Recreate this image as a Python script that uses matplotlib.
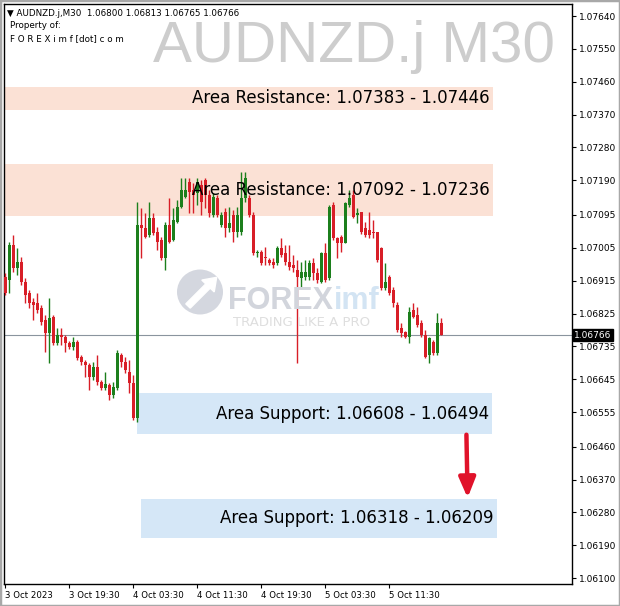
import numpy as np
import matplotlib
matplotlib.use('Agg')
import matplotlib.pyplot as plt
from matplotlib.patches import Rectangle, Circle, FancyArrow

# candles: AUDNZD.j M30, one bar per 30 minutes starting 3 Oct 11:30
opens = [
    1.06925, 1.06917, 1.07013, 1.06949, 1.06966, 1.06911, 1.06881, 1.06856, 1.06854, 1.06840,
    1.06807, 1.06771, 1.06815, 1.06744, 1.06766, 1.06760, 1.06744, 1.06733, 1.06747, 1.06706,
    1.06692, 1.06684, 1.06651, 1.06678, 1.06637, 1.06621, 1.06629, 1.06602, 1.06621, 1.06711,
    1.06692, 1.06665, 1.06634, 1.06539, 1.07067, 1.07059, 1.07040, 1.07087, 1.07048, 1.07026,
    1.06977, 1.07067, 1.07026, 1.07076, 1.07117, 1.07144, 1.07185, 1.07163, 1.07155, 1.07177,
    1.07191, 1.07150, 1.07095, 1.07141, 1.07067, 1.07103, 1.07059, 1.07095, 1.07048, 1.07048,
    1.07141, 1.07141, 1.07095, 1.06991, 1.06993, 1.06980, 1.06971, 1.06966, 1.06963, 1.07004,
    1.06991, 1.06966, 1.06958, 1.06944, 1.06922, 1.06925, 1.06925, 1.06963, 1.06936, 1.06911,
    1.06991, 1.06922, 1.07122, 1.07032, 1.07034, 1.07018, 1.07122, 1.07150, 1.07095, 1.07103,
    1.07059, 1.07054, 1.07048, 1.07048, 1.07004, 1.06895, 1.06925, 1.06889, 1.06848, 1.06785,
    1.06774, 1.06760, 1.06834, 1.06821, 1.06799, 1.06766, 1.06711, 1.06747, 1.06717, 1.06800,
]
highs = [
    1.06936, 1.07021, 1.07040, 1.07004, 1.06980, 1.06922, 1.06889, 1.06867, 1.06881, 1.06848,
    1.06821, 1.06867, 1.06821, 1.06785, 1.06785, 1.06766, 1.06749, 1.06760, 1.06752, 1.06711,
    1.06697, 1.06689, 1.06692, 1.06711, 1.06643, 1.06665, 1.06634, 1.06637, 1.06725, 1.06717,
    1.06706, 1.06697, 1.06656, 1.07130, 1.07114, 1.07100, 1.07130, 1.07100, 1.07062, 1.07034,
    1.07076, 1.07141, 1.07114, 1.07136, 1.07196, 1.07196, 1.07196, 1.07182, 1.07196, 1.07191,
    1.07196, 1.07163, 1.07155, 1.07150, 1.07103, 1.07114, 1.07117, 1.07108, 1.07117, 1.07213,
    1.07213, 1.07150, 1.07103, 1.06999, 1.06999, 1.07007, 1.06977, 1.06977, 1.07010, 1.07032,
    1.07013, 1.07013, 1.06985, 1.06971, 1.06966, 1.06971, 1.06971, 1.06977, 1.06949, 1.06993,
    1.07018, 1.07122, 1.07130, 1.07034, 1.07040, 1.07130, 1.07163, 1.07163, 1.07114, 1.07103,
    1.07076, 1.07103, 1.07081, 1.07048, 1.07007, 1.06963, 1.06930, 1.06897, 1.06856, 1.06799,
    1.06777, 1.06843, 1.06854, 1.06843, 1.06807, 1.06780, 1.06760, 1.06752, 1.06826, 1.06813,
]
lows = [
    1.06876, 1.06881, 1.06938, 1.06930, 1.06903, 1.06854, 1.06840, 1.06807, 1.06826, 1.06793,
    1.06719, 1.06689, 1.06739, 1.06739, 1.06739, 1.06719, 1.06728, 1.06725, 1.06697, 1.06684,
    1.06651, 1.06615, 1.06643, 1.06629, 1.06615, 1.06615, 1.06588, 1.06593, 1.06615, 1.06678,
    1.06662, 1.06607, 1.06533, 1.06528, 1.06977, 1.07032, 1.07034, 1.07040, 1.06999, 1.06971,
    1.06944, 1.07018, 1.07023, 1.07073, 1.07114, 1.07141, 1.07100, 1.07100, 1.07122, 1.07095,
    1.07114, 1.07089, 1.07089, 1.07089, 1.07062, 1.07034, 1.07048, 1.07021, 1.07034, 1.07040,
    1.07130, 1.07089, 1.06985, 1.06980, 1.06958, 1.06958, 1.06958, 1.06949, 1.06958, 1.06980,
    1.06958, 1.06944, 1.06938, 1.06689, 1.06895, 1.06917, 1.06917, 1.06917, 1.06908, 1.06908,
    1.06911, 1.06917, 1.07026, 1.06977, 1.06993, 1.07018, 1.07117, 1.07087, 1.07073, 1.07043,
    1.07034, 1.07032, 1.07032, 1.06966, 1.06889, 1.06889, 1.06876, 1.06843, 1.06774, 1.06760,
    1.06758, 1.06744, 1.06813, 1.06788, 1.06760, 1.06703, 1.06689, 1.06711, 1.06711, 1.06765,
]
closes = [
    1.06881, 1.07013, 1.06949, 1.06966, 1.06911, 1.06876, 1.06854, 1.06848, 1.06834, 1.06802,
    1.06771, 1.06813, 1.06744, 1.06766, 1.06760, 1.06744, 1.06733, 1.06747, 1.06703, 1.06692,
    1.06684, 1.06651, 1.06678, 1.06637, 1.06621, 1.06632, 1.06602, 1.06623, 1.06717, 1.06692,
    1.06670, 1.06634, 1.06539, 1.07067, 1.07059, 1.07034, 1.07087, 1.07045, 1.07021, 1.06977,
    1.07067, 1.07021, 1.07081, 1.07117, 1.07163, 1.07163, 1.07158, 1.07150, 1.07185, 1.07130,
    1.07150, 1.07100, 1.07144, 1.07095, 1.07095, 1.07059, 1.07073, 1.07048, 1.07095, 1.07141,
    1.07196, 1.07095, 1.06991, 1.06993, 1.06963, 1.06977, 1.06963, 1.06958, 1.07004, 1.06985,
    1.06966, 1.06952, 1.06949, 1.06925, 1.06938, 1.06938, 1.06963, 1.06936, 1.06917, 1.06991,
    1.06917, 1.07117, 1.07032, 1.07018, 1.07018, 1.07128, 1.07141, 1.07089, 1.07100, 1.07048,
    1.07040, 1.07040, 1.07045, 1.06971, 1.06895, 1.06911, 1.06881, 1.06854, 1.06780, 1.06771,
    1.06760, 1.06829, 1.06815, 1.06793, 1.06766, 1.06706, 1.06758, 1.06717, 1.06799, 1.06766,
]

# zones (price range, first bar index, last bar index)
zone_names = ['Area Resistance', 'Area Resistance', 'Area Support', 'Area Support']
zone_lo = [1.07383, 1.07092, 1.06494, 1.06209]
zone_hi = [1.07446, 1.07236, 1.06608, 1.06318]
zone_label = ['1.07383 - 1.07446', '1.07092 - 1.07236', '1.06608 - 1.06494', '1.06318 - 1.06209']
zone_start = [-1.0, -1.0, 32.9, 33.9]
zone_end = [121.9, 121.9, 121.7, 122.9]
zone_kind = ['res', 'res', 'sup', 'sup']

last_price = 1.06766

xtick_pos = [0, 16, 32, 48, 64, 80, 96]
xtick_lab = ['3 Oct 2023', '3 Oct 19:30', '4 Oct 03:30', '4 Oct 11:30',
             '4 Oct 19:30', '5 Oct 03:30', '5 Oct 11:30']
ytick_lab = ['1.07640', '1.07550', '1.07460', '1.07370', '1.07280', '1.07190',
             '1.07095', '1.07005', '1.06915', '1.06825', '1.06735', '1.06645',
             '1.06555', '1.06460', '1.06370', '1.06280', '1.06190', '1.06100']

GREEN = '#1c7f1c'
RED = '#d81e27'
RES_FILL = '#fbe1d5'
SUP_FILL = '#d5e7f7'

fig = plt.figure(figsize=(6.2, 6.06), dpi=100)
fig.patch.set_facecolor('white')
ax = fig.add_axes([4 / 620, 22 / 606, 568 / 620, 580 / 606])
ax.set_facecolor('white')

# watermark symbol text
fig.text(555 / 620, 1 - 62 / 606, 'AUDNZD.j M30', ha='right', va='baseline',
         fontsize=42, color='#cdcdcd', family='Liberation Sans', zorder=0)

# faint logo in the middle
circ = Circle((200 / 620, 1 - 292 / 606), 23 / 620, transform=fig.transFigure,
              facecolor='#d4d7df', edgecolor='none', zorder=0.5)
fig.patches.append(circ)
arr = FancyArrow(188 / 620, 1 - 306 / 606, 20 / 620, 20 / 606, width=0.010,
                 head_width=0.028, head_length=0.02, color='white',
                 transform=fig.transFigure, zorder=0.6)
fig.patches.append(arr)
t_forex = fig.text(228 / 620, 1 - 309 / 606, 'FOREX', fontsize=22, fontweight='bold',
                   color='#d2d5dc', family='Liberation Sans', zorder=0.5)
fig.canvas.draw()
bb = t_forex.get_window_extent()
fig.text(bb.x1 / fig.bbox.width + 1 / 620, 1 - 309 / 606, 'imf', fontsize=22,
         fontweight='bold', color='#d3e4f3', family='Liberation Sans', zorder=0.5)
fig.text(233 / 620, 1 - 326 / 606, 'TRADING LIKE A PRO', fontsize=9.5,
         color='#dedede', family='DejaVu Sans', zorder=0.5)

# zones
for i in range(len(zone_lo)):
    fill = RES_FILL if zone_kind[i] == 'res' else SUP_FILL
    ax.add_patch(Rectangle((zone_start[i], zone_lo[i]), zone_end[i] - zone_start[i],
                           zone_hi[i] - zone_lo[i], facecolor=fill,
                           edgecolor='none', zorder=1))

# current price line
ax.axhline(last_price, color='#8a949e', lw=0.8, zorder=2)

# candles
x = np.arange(len(opens))
o = np.array(opens)
c = np.array(closes)
h = np.array(highs)
l = np.array(lows)
up = c >= o
cols = np.where(up, GREEN, RED)
ax.vlines(x, l, h, colors=cols, lw=1.0, zorder=3)
body = np.maximum(np.abs(c - o), 0.00003)
ax.bar(x, body, bottom=np.minimum(o, c), width=0.72, color=cols, zorder=3)

# zone labels
for i in range(len(zone_lo)):
    ax.text(zone_end[i] - 0.8, (zone_lo[i] + zone_hi[i]) / 2,
            zone_names[i] + ': ' + zone_label[i], ha='right', va='center',
            fontsize=12, color='black', zorder=5)

# red arrow from support 1 to support 2
ax.annotate('', xy=(115.6, zone_hi[3] + 0.00002), xytext=(115.3, zone_lo[2] - 0.00001),
            arrowprops=dict(arrowstyle='-|>,head_width=0.5,head_length=1.2',
                            color='#e0122a', lw=3.2, shrinkA=0, shrinkB=0),
            zorder=6)

# axes
ax.set_xlim(-0.33, 141.7)
ax.set_ylim(1.06084, 1.07673)
ax.yaxis.tick_right()
ax.set_yticks([float(t) for t in ytick_lab])
ax.set_yticklabels(ytick_lab, fontsize=6.5)
ax.set_xticks(xtick_pos)
ax.set_xticklabels(xtick_lab, fontsize=6.2)
for lbl in ax.get_xticklabels():
    lbl.set_ha('left')
ax.tick_params(axis='y', length=3, width=0.8, pad=2)
ax.tick_params(axis='x', length=3, width=0.8, pad=2)
for s in ax.spines.values():
    s.set_color('black')
    s.set_linewidth(1.0)

# last price tag on the axis
ax.text(1.004, last_price, '1.06766', transform=ax.get_yaxis_transform(),
        ha='left', va='center', fontsize=6.5, color='white',
        bbox=dict(boxstyle='square,pad=0.15', facecolor='black', edgecolor='black'),
        zorder=7, clip_on=False)

# header
fig.text(7 / 620, 1 - 13 / 606, '\u25bc AUDNZD.j,M30  1.06800 1.06813 1.06765 1.06766',
         fontsize=6.3, va='center', ha='left')
fig.text(10 / 620, 1 - 26 / 606, 'Property of:', fontsize=6.3, va='center')
fig.text(10 / 620, 1 - 39 / 606, 'F O R E X i m f [dot] c o m', fontsize=6.3, va='center')

# outer frame
fig.patches.append(Rectangle((0, 0), 1, 1, transform=fig.transFigure, fill=False,
                             edgecolor='#a8a8a8', lw=2.5))

fig.savefig('out.png', dpi=100)
